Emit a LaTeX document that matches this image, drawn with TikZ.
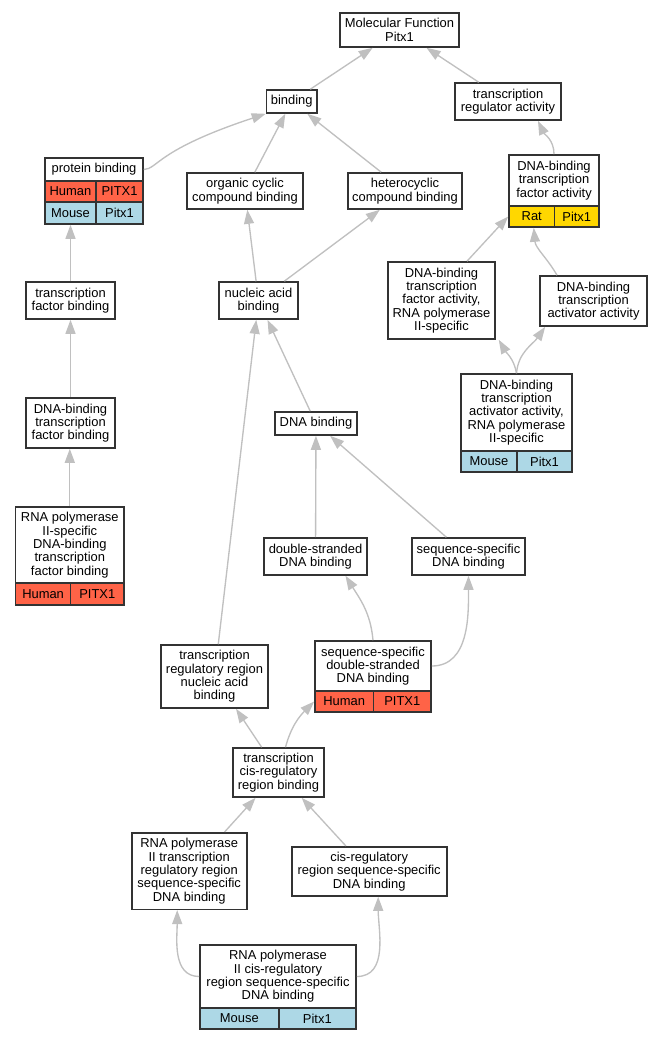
\documentclass[tikz,border=0pt]{standalone}
\usepackage{fontspec}
\setmainfont{Liberation Sans}
\usetikzlibrary{arrows.meta,calc}
\definecolor{humanc}{HTML}{FF6347}
\definecolor{mousec}{HTML}{ADD8E6}
\definecolor{ratc}{HTML}{FFD700}
\definecolor{edgec}{HTML}{C0C0C0}
\definecolor{framec}{HTML}{333333}
\newcommand\gbx[6]{\node[gbox, minimum width={(#4-#2)*0.75pt}, minimum height={(#5-#3)*0.75pt}] (#1) at ({(#2+#4)/2},{(#3+#5)/2}) {#6};}
\newcommand\gcl[7]{\node[gbox, fill=#6, minimum width={(#4-#2)*0.75pt}, minimum height={(#5-#3)*0.75pt}] (#1) at ({(#2+#4)/2},{(#3+#5)/2}) {#7};}
\begin{document}
\begin{tikzpicture}[x=0.75pt,y=-0.75pt,
  gbox/.style={draw=framec, line width=1.2pt, fill=white, align=center, inner sep=0pt, text=black,
    font=\fontsize{9.7}{10}\selectfont},
  edge/.style={draw=edgec, line width=1pt, -{Triangle[length=10.5pt,width=7.5pt]}, fill=none}]
\fill[white] (0,0) rectangle (663,1040);
\useasboundingbox (0,0) rectangle (663,1040);
% plain nodes
\gbx{mf}{340}{13}{459}{47}{Molecular Function\\Pitx1}
\gbx{binding}{266.5}{90}{317}{113}{binding}
\gbx{tra}{455}{83}{561}{120}{transcription\\regulator activity}
\gbx{oc}{187}{173}{303}{209}{organic cyclic\\compound binding}
\gbx{het}{348}{173}{462}{209}{heterocyclic\\compound binding}
\gbx{tfb}{26}{282}{115}{319}{transcription\\factor binding}
\gbx{nab}{219}{282}{298}{319}{nucleic acid\\binding}
\gbx{dbtfar}{388}{262}{495}{339}{DNA-binding\\transcription\\factor activity,\\RNA polymerase\\II-specific}
\gbx{dbtaa}{540}{276}{647}{326}{DNA-binding\\transcription\\activator activity}
\gbx{dbtfb}{26}{398}{115}{448}{DNA-binding\\transcription\\factor binding}
\gbx{dnab}{275}{412}{357}{435}{DNA binding}
\gbx{ds}{264}{538}{367}{575}{double-stranded\\DNA binding}
\gbx{ss}{412}{538}{525}{575}{sequence-specific\\DNA binding}
\gbx{trr}{161}{645}{268}{708}{transcription\\regulatory region\\nucleic acid\\binding}
\gbx{tcrrb}{233}{748}{324}{797}{transcription\\cis-regulatory\\region binding}
\gbx{rtrr}{131.7}{832.7}{246.7}{909.3}{RNA polymerase\\II transcription\\regulatory region\\sequence-specific\\DNA binding}
\gbx{cis}{291.7}{846.7}{446.7}{896}{cis-regulatory\\region sequence-specific\\DNA binding}
% table nodes
\gbx{pbh}{45}{158}{143}{181}{protein binding}
\gcl{pbh1}{45}{181}{96}{202}{humanc}{Human}
\gcl{pbh2}{96}{181}{143}{202}{humanc}{PITX1}
\gcl{pbm1}{45}{202}{96}{224}{mousec}{Mouse}
\gcl{pbm2}{96}{202}{143}{224}{mousec}{Pitx1}
\gbx{dbtfa}{509}{155}{599}{206}{DNA-binding\\transcription\\factor activity}
\gcl{dbr1}{509}{206}{554.5}{227}{ratc}{Rat}
\gcl{dbr2}{554.5}{206}{599}{227}{ratc}{Pitx1}
\gbx{dbtaar}{461}{374}{572}{451}{DNA-binding\\transcription\\activator activity,\\RNA polymerase\\II-specific}
\gcl{dbm1}{461}{451}{517}{472}{mousec}{Mouse}
\gcl{dbm2}{517}{451}{572}{472}{mousec}{Pitx1}
\gbx{rdb}{15.6}{507}{124}{583}{RNA polymerase\\II-specific\\DNA-binding\\transcription\\factor binding}
\gcl{rdh1}{15.6}{583}{70.6}{605}{humanc}{Human}
\gcl{rdh2}{70.6}{583}{124}{605}{humanc}{PITX1}
\gbx{ssds}{315}{641}{431}{691}{sequence-specific\\double-stranded\\DNA binding}
\gcl{ssh1}{315}{691}{373.5}{712}{humanc}{Human}
\gcl{ssh2}{373.5}{691}{431}{712}{humanc}{PITX1}
\gbx{cisreg}{200}{945}{356}{1008}{RNA polymerase\\II cis-regulatory\\region sequence-specific\\DNA binding}
\gcl{crm1}{200}{1008}{278.7}{1029}{mousec}{Mouse}
\gcl{crm2}{278.7}{1008}{356}{1029}{mousec}{Pitx1}
% edges
\draw[edge] (binding) -- (mf);
\draw[edge] (tra) -- (mf);
\draw[edge] (pbh.east) .. controls (158,169) and (156,150) .. (binding.south west);
\draw[edge] (oc) -- (binding);
\draw[edge] (het) -- (binding);
\draw[edge] (dbtfa.north) to[out=90,in=-65] ($(tra.south)+(30,0)$);
\draw[edge] (nab) -- (oc);
\draw[edge] (nab) -- (het);
\draw[edge] ($(dbtfar.north)+(25.5,0)$) -- (dbr1.west);
\draw[edge] ($(dbtaa.north)+(-36.5,0)$) to[out=120,in=-85] ($(dbr1.south)+(2,0)$);
\draw[edge] (tfb) -- (pbm1);
\draw[edge] (dbtfb) -- (tfb);
\draw[edge] (rdb.north) -- (rdb.north |- dbtfb.south);
\draw[edge] (dnab) -- (nab);
\draw[edge] (dbtaar.north) to[out=100,in=-60] ($(dbtfar.south east)+(3,0)$);
\draw[edge] (dbtaar.north) to[out=85,in=-125] ($(dbtaa.south west)+(6,0)$);
\draw[edge] (trr) -- (nab);
\draw[edge] (ds) -- (dnab);
\draw[edge] (ss) -- (dnab);
\draw[edge] (ssds.north) to[out=95,in=-58] ($(ds.south)+(30,0)$);
\draw[edge] (ssds.east) to[out=0,in=-90] (ss.south);
\draw[edge] (tcrrb) -- (trr);
\draw[edge] ($(tcrrb.north)+(7,0)$) to[out=75,in=-135] (ssh1.west);
\draw[edge] (rtrr) -- (tcrrb);
\draw[edge] (cis) -- (tcrrb);
\draw[edge] (cisreg.west) to[out=180,in=-90] ($(rtrr.south)+(-12,0)$);
\draw[edge] (cisreg.east) to[out=0,in=-90] ($(cis.south)+(9,0)$);
\end{tikzpicture}
\end{document}
